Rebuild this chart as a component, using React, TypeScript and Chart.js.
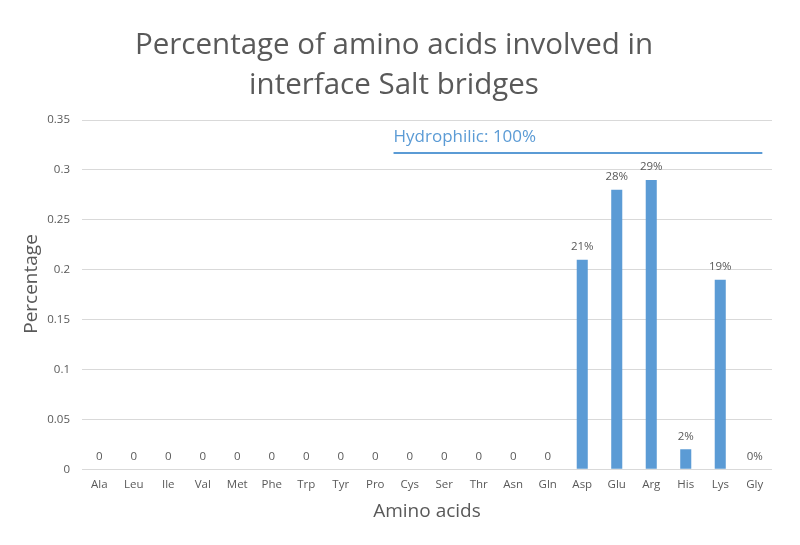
import React, { useEffect, useRef } from "react";
import { Chart, registerables } from "chart.js";

Chart.register(...registerables);

const categories = ["Ala","Leu","Ile","Val","Met","Phe","Trp","Tyr","Pro","Cys","Ser","Thr","Asn","Gln","Asp","Glu","Arg","His","Lys","Gly"];
const values = [0,0,0,0,0,0,0,0,0,0,0,0,0,0,0.21,0.28,0.29,0.02,0.19,0];
const valueLabels = ["0","0","0","0","0","0","0","0","0","0","0","0","0","0","21%","28%","29%","2%","19%","0%"];
const titleLines = ["Percentage of amino acids involved in", "interface Salt bridges"];
const xTitle = "Amino acids";
const yTitle = "Percentage";
const hydroText = "Hydrophilic: 100%";
const hydroStart = 8.53;
const hydroEnd = 19.22;
const hydroValue = 0.317;

const FONT = "'Open Sans', sans-serif";
const TEXT = "#595959";
const BLUE = "#5B9BD5";

const overlay = {
  id: "overlay",
  afterDatasetsDraw(chart: any) {
    const ctx = chart.ctx;
    const meta = chart.getDatasetMeta(0);
    ctx.save();
    ctx.fillStyle = TEXT;
    ctx.font = `11.5px ${FONT}`;
    ctx.textAlign = "center";
    ctx.textBaseline = "alphabetic";
    meta.data.forEach((bar: any, i: number) => {
      ctx.fillText(valueLabels[i], bar.x, bar.y - 9.5);
    });
    const xs = chart.scales.x;
    const ys = chart.scales.y;
    const x1 = xs.getPixelForValue(hydroStart);
    const x2 = xs.getPixelForValue(hydroEnd);
    const yy = ys.getPixelForValue(hydroValue);
    ctx.strokeStyle = BLUE;
    ctx.lineWidth = 2;
    ctx.beginPath();
    ctx.moveTo(x1, yy);
    ctx.lineTo(x2, yy);
    ctx.stroke();
    ctx.fillStyle = BLUE;
    ctx.font = `17px ${FONT}`;
    ctx.textAlign = "left";
    ctx.fillText(hydroText, x1, yy - 10.5);
    ctx.restore();
  },
  afterDraw(chart: any) {
    const ctx = chart.ctx;
    const area = chart.chartArea;
    ctx.save();
    ctx.fillStyle = TEXT;
    ctx.textAlign = "center";
    ctx.textBaseline = "alphabetic";
    ctx.font = `29.5px ${FONT}`;
    ctx.fillText(titleLines[0], 394, 54);
    ctx.fillText(titleLines[1], 394, 93.5);
    ctx.font = `19px ${FONT}`;
    ctx.fillText(xTitle, (area.left + area.right) / 2, 517);
    ctx.translate(37, 284);
    ctx.rotate(-Math.PI / 2);
    ctx.fillText(yTitle, 0, 0);
    ctx.restore();
  },
};

export default function App() {
  const ref = useRef<HTMLCanvasElement | null>(null);
  useEffect(() => {
    document.body.style.margin = "0";
    const canvas = ref.current!;
    const chart = new Chart(canvas, {
      type: "bar",
      data: {
        labels: categories,
        datasets: [
          {
            data: values,
            backgroundColor: BLUE,
            borderWidth: 0,
            barPercentage: 0.32,
            categoryPercentage: 1,
          },
        ],
      },
      options: {
        responsive: false,
        animation: false,
        layout: { padding: { top: 120, left: 0, right: 28, bottom: 0 } },
        plugins: {
          legend: { display: false },
          title: { display: false },
          tooltip: { enabled: false },
        },
        scales: {
          x: {
            grid: { display: false, drawTicks: false },
            border: { display: false },
            ticks: { color: TEXT, font: { family: FONT, size: 11.5 }, padding: 9, maxRotation: 0, autoSkip: false },
            afterFit(scale: any) { scale.height = 75.7; },
          },
          y: {
            min: 0,
            max: 0.35,
            ticks: {
              stepSize: 0.05,
              color: TEXT,
              font: { family: FONT, size: 11.5 },
              padding: 12,
              callback: (v: any) => String(Math.round(Number(v) * 100) / 100),
            },
            grid: { color: "#D9D9D9", lineWidth: 1, drawTicks: false },
            border: { display: false },
            afterFit(scale: any) { scale.width = 82; },
          },
        },
      },
      plugins: [overlay],
    });
    return () => chart.destroy();
  }, []);
  return (
    <div style={{ width: 800, height: 545, background: "#fff" }}>
      <canvas ref={ref} width={800} height={545} />
    </div>
  );
}
